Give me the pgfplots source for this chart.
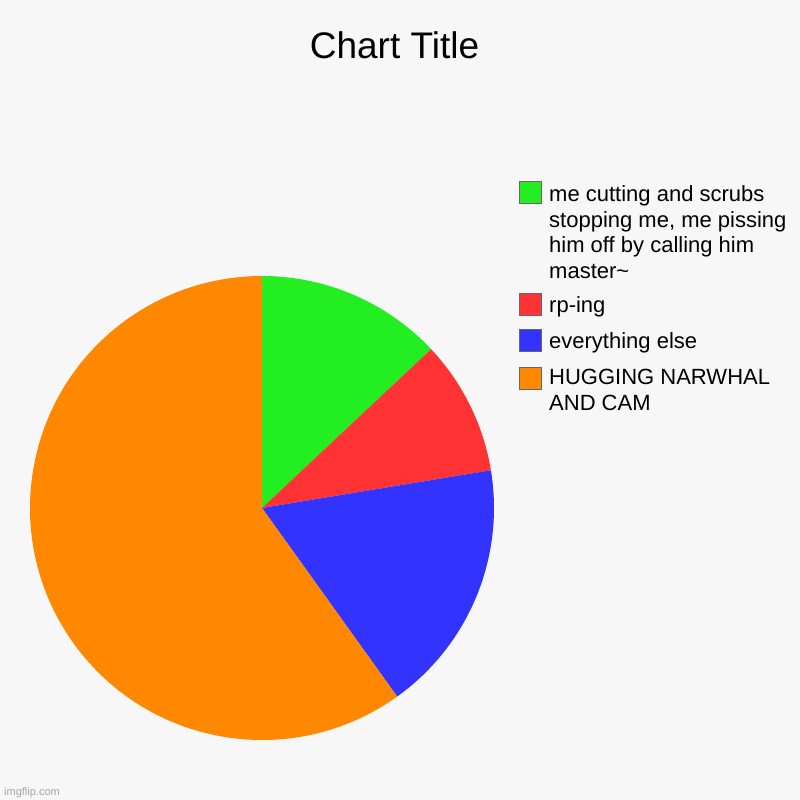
\documentclass[border=0pt]{standalone}
\usepackage{pgfplots}
\pgfplotsset{compat=1.18}
\usepackage{fontspec}
\setmainfont{Liberation Sans}
\definecolor{bg}{HTML}{F7F7F7}
\definecolor{pgreen}{HTML}{22EE22}
\definecolor{pred}{HTML}{FF3333}
\definecolor{pblue}{HTML}{3333FF}
\definecolor{porange}{HTML}{FF8800}
\definecolor{sqborder}{HTML}{666666}
\begin{document}
\begin{tikzpicture}
\begin{axis}[
  hide axis, x=1pt, y=1pt,
  xmin=0, xmax=800, ymin=0, ymax=800,
  clip=false,
]
\pgfplotsextra{
  \fill[bg] (axis cs:-5,-5) rectangle (axis cs:805,805);
  % pie: centre (262,292) in axis units, radius 232, clockwise from 12 o'clock
  \xdef\curang{90}
  \foreach \v/\c in {13.0/pgreen, 9.4/pred, 17.7/pblue, 59.9/porange} {
    \pgfmathsetmacro\nextang{\curang-3.6*\v}
    \fill[\c] (axis cs:262,292) -- ++(\curang:232pt) arc[start angle=\curang, end angle=\nextang, radius=232pt] -- cycle;
    \xdef\curang{\nextang}
  }
  % title
  \node[anchor=base, inner sep=0pt, font=\fontsize{37}{40}\selectfont] at (axis cs:394.5,741) {Chart Title};
  % legend squares
  \foreach \yy/\c in {192.5/pgreen, 304.5/pred, 340.5/pblue, 378.5/porange} {
    \filldraw[fill=\c, draw=sqborder, line width=1.6pt] (axis cs:519.5,{800-\yy-11}) rectangle (axis cs:541.5,{800-\yy+11});
  }
  % legend text
  \foreach \yy/\t in {201.7/me cutting and scrubs, 227.2/{stopping me, me pissing}, 252.7/him off by calling him, 278.2/master\textasciitilde, 312.7/rp-ing, 348.2/everything else, 385/HUGGING NARWHAL, 410.5/AND CAM} {
    \node[anchor=base west, inner sep=0pt, font=\fontsize{22}{25}\selectfont] at (axis cs:549,{800-\yy}) {\t};
  }
  \node[anchor=base west, inner sep=0pt, text=black!35, font=\fontsize{11}{12}\selectfont] at (axis cs:4,5) {imgflip.com};
}
\end{axis}
\pgfresetboundingbox
\path[use as bounding box] (current axis.south west) rectangle (current axis.north east);
\end{tikzpicture}
\end{document}
